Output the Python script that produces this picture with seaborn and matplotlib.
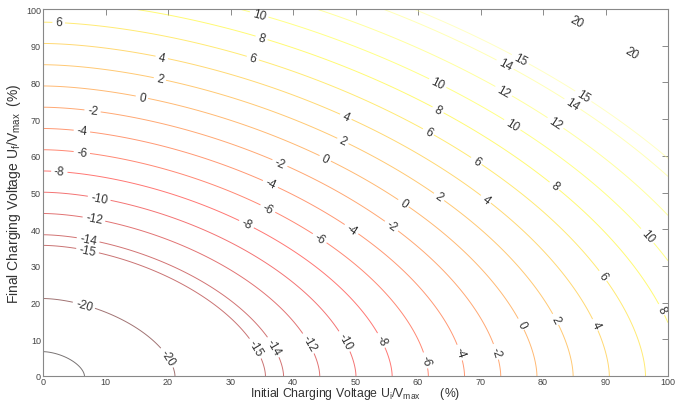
import numpy as np
import matplotlib
matplotlib.use("Agg")
import matplotlib.pyplot as plt
import seaborn as sns

# niveles de contorno y su "radio" medido sobre los ejes (norma p=1.7)
niveles = [-25, -20, -15, -14, -12, -10, -8, -6, -4, -2, 0, 2, 4, 6, 8, 10, 12, 14, 15, 20]
radios = [6.5, 21.1, 35.5, 38.5, 44.2, 50.1, 55.9, 61.8, 67.5, 73.3, 79.1,
          84.9, 90.7, 96.4, 102.5, 108.0, 113.5, 119.5, 122.2, 137.0]
exponente = 1.7

# posiciones de las etiquetas
pos_etiquetas = [
    (2.5, 95.9), (19.0, 86.8), (18.7, 80.9), (15.8, 75.7), (7.9, 71.8), (6.2, 66.4),
    (6.2, 60.7), (2.6, 55.3), (9.0, 48.5), (8.1, 42.3), (7.2, 36.9), (7.1, 33.9),
    (6.5, 19.0), (19.7, 4.8), (35.8, 45.0), (32.3, 40.5), (44.1, 37.1), (49.2, 39.6),
    (55.6, 40.5), (57.6, 46.9), (33.9, 7.4), (36.8, 7.8), (42.3, 8.7), (48.2, 9.4),
    (54.0, 9.6), (61.1, 4.2), (66.7, 6.4), (72.1, 6.4), (76.6, 14.2), (82.1, 15.5),
    (88.3, 13.9), (89.6, 27.3), (99.2, 18.3), (96.7, 38.2), (34.6, 98.6), (35.0, 92.3),
    (33.6, 86.8), (48.5, 70.8), (48.0, 64.1), (45.1, 59.1), (37.9, 58.0), (36.3, 52.0),
    (63.1, 79.6), (63.3, 72.8), (61.7, 66.6), (63.5, 49.1), (70.7, 47.8), (85.4, 96.4),
    (94.2, 88.2), (76.3, 86.1), (73.9, 84.8), (73.6, 77.3), (75.0, 68.2), (86.4, 76.1),
    (84.6, 73.8), (81.9, 68.7), (69.3, 58.5), (81.9, 51.9),
]

sns.set_theme(style="white")
plt.rcParams['font.family'] = ['Liberation Sans', 'DejaVu Sans']
plt.rcParams['mathtext.default'] = 'regular'

x = np.linspace(0, 100, 401)
y = np.linspace(0, 100, 401)
X, Y = np.meshgrid(x, y)
R = (X ** exponente + Y ** exponente) ** (1 / exponente)
coef = np.polyfit(radios, niveles, 1)
Z = np.polyval(coef, R)

fig = plt.figure(figsize=(6.81, 4.02), dpi=100)
ax = fig.add_axes([43 / 681, 1 - 377 / 402, 625 / 681, 367 / 402])

cmap = sns.color_palette("hot", as_cmap=True)
cs = ax.contour(X, Y, Z, levels=niveles, cmap=cmap, vmin=-25, vmax=20,
                linewidths=0.7, alpha=0.55)
etiquetas = ax.clabel(cs, inline=True, fontsize=8.5, fmt='%d', manual=pos_etiquetas,
                      inline_spacing=3)
for t in etiquetas:
    t.set_color('#333333')

ax.set_xlim(0, 100)
ax.set_ylim(0, 100)
ax.set_xticks(range(0, 101, 10))
ax.set_yticks(range(0, 101, 10))
ax.tick_params(direction='in', length=4, width=0.6, color='#777777', labelsize=6.5,
               labelcolor='#444444', top=True, right=True, pad=1.5)
ax.tick_params(axis='x', pad=0.5)
for s in ax.spines.values():
    s.set_color('#888888')
    s.set_linewidth(0.8)

ax.set_xlabel(r'Initial Charging Voltage U$_i$/V$_{max}$      (%)', fontsize=8.8,
              color='#333333')
ax.xaxis.label.set_va('bottom')
ax.xaxis.set_label_coords(0.5, -0.0685)
ax.set_ylabel(r'Final Charging Voltage U$_f$/V$_{max}$  (%)', fontsize=10,
              color='#333333', labelpad=2)

fig.savefig('out.png', dpi=100)
